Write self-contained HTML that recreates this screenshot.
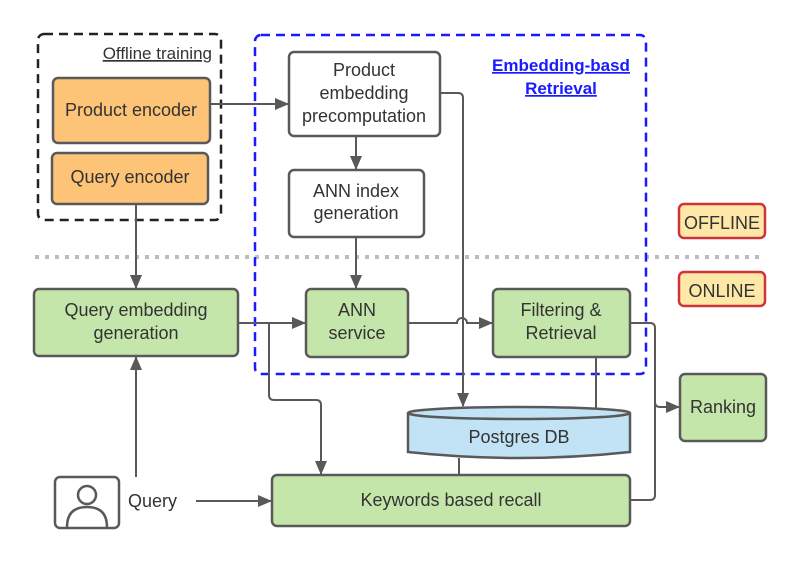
<!DOCTYPE html>
<html><head><meta charset="utf-8"><style>
html,body{margin:0;padding:0;background:#fff;}
svg{display:block;}
text{font-family:"Liberation Sans",sans-serif;fill:#333;}
</style></head><body>
<svg width="800" height="562" viewBox="0 0 800 562" xmlns="http://www.w3.org/2000/svg">
<defs>
<marker id="a" markerWidth="14" markerHeight="12" refX="13" refY="6" orient="auto" markerUnits="userSpaceOnUse">
<path d="M0,0 L14,6 L0,12 z" fill="#595959"/></marker>
</defs>
<line x1="35" y1="257" x2="764" y2="257" stroke="#bdbdbd" stroke-width="4" stroke-dasharray="4,6"/>
<rect x="38" y="34" width="183" height="186" rx="6" fill="none" stroke="#222" stroke-width="2.5" stroke-dasharray="9,6"/>
<text x="212" y="59" font-size="17" text-anchor="end" text-decoration="underline">Offline training</text>
<rect x="255" y="35" width="391" height="339" rx="6" fill="none" stroke="#1a1aff" stroke-width="2.5" stroke-dasharray="9,6"/>
<text x="561" y="71" font-size="17" font-weight="bold" text-anchor="middle" style="fill:#1a1aff" text-decoration="underline">Embedding-basd</text>
<text x="561" y="94" font-size="17" font-weight="bold" text-anchor="middle" style="fill:#1a1aff" text-decoration="underline">Retrieval</text>

<g stroke="#595959" stroke-width="2" fill="none">
<line x1="210" y1="104" x2="288" y2="104" marker-end="url(#a)"/>
<line x1="356" y1="136" x2="356" y2="169" marker-end="url(#a)"/>
<line x1="356" y1="237" x2="356" y2="288" marker-end="url(#a)"/>
<line x1="136" y1="204" x2="136" y2="288" marker-end="url(#a)"/>
<line x1="136" y1="477" x2="136" y2="357" marker-end="url(#a)"/>
<line x1="196" y1="501" x2="271" y2="501" marker-end="url(#a)"/>
<line x1="238" y1="323" x2="305" y2="323" marker-end="url(#a)"/>
<path d="M269,323 V395 Q269,400 274,400 H316 Q321,400 321,405 V474" marker-end="url(#a)"/>
<path d="M408,323 H457 A5,5 0 0 1 467,323 H492" marker-end="url(#a)"/>
<path d="M440,93 H458 Q463,93 463,98 V406" marker-end="url(#a)"/>
<line x1="596" y1="357" x2="596" y2="408"/>
<line x1="459" y1="458" x2="459" y2="476"/>
<path d="M630,323 H650 Q655,323 655,328 V495 Q655,500 650,500 H630"/>
<path d="M655,402 Q655,407 660,407 H679" marker-end="url(#a)"/>
</g>

<rect x="53" y="78" width="157" height="65" rx="5" fill="#fdc377" stroke="#595959" stroke-width="2.5"/>
<text x="131" y="116" font-size="18" text-anchor="middle">Product encoder</text>
<rect x="52" y="153" width="156" height="51" rx="5" fill="#fdc377" stroke="#595959" stroke-width="2.5"/>
<text x="130" y="183" font-size="18" text-anchor="middle">Query encoder</text>
<rect x="289" y="52" width="151" height="84" rx="5" fill="#fff" stroke="#595959" stroke-width="2.5"/>
<text x="364" y="76" font-size="18" text-anchor="middle">Product</text>
<text x="364" y="99" font-size="18" text-anchor="middle">embedding</text>
<text x="364" y="122" font-size="18" text-anchor="middle">precomputation</text>
<rect x="289" y="170" width="135" height="67" rx="5" fill="#fff" stroke="#595959" stroke-width="2.5"/>
<text x="356" y="197" font-size="18" text-anchor="middle">ANN index</text>
<text x="356" y="219" font-size="18" text-anchor="middle">generation</text>
<rect x="679" y="204" width="86" height="34" rx="5" fill="#fde8a8" stroke="#d0333a" stroke-width="2.5"/>
<text x="722" y="229" font-size="18" text-anchor="middle">OFFLINE</text>
<rect x="679" y="272" width="86" height="34" rx="5" fill="#fde8a8" stroke="#d0333a" stroke-width="2.5"/>
<text x="722" y="297" font-size="18" text-anchor="middle">ONLINE</text>
<g fill="#c5e6ab" stroke="#595959" stroke-width="2.5">
<rect x="34" y="289" width="204" height="67" rx="5"/>
<rect x="306" y="289" width="102" height="68" rx="5"/>
<rect x="493" y="289" width="137" height="68" rx="5"/>
<rect x="680" y="374" width="86" height="67" rx="5"/>
<rect x="272" y="475" width="358" height="51" rx="5"/>
</g>
<text x="136" y="316" font-size="18" text-anchor="middle">Query embedding</text>
<text x="136" y="339" font-size="18" text-anchor="middle">generation</text>
<text x="357" y="316" font-size="18" text-anchor="middle">ANN</text>
<text x="357" y="339" font-size="18" text-anchor="middle">service</text>
<text x="561" y="316" font-size="18" text-anchor="middle">Filtering &amp;</text>
<text x="561" y="339" font-size="18" text-anchor="middle">Retrieval</text>
<text x="723" y="413" font-size="18" text-anchor="middle">Ranking</text>
<text x="451" y="506" font-size="18" text-anchor="middle">Keywords based recall</text>
<path d="M408,413 V452 Q519,464 630,452 V413" fill="#c1e3f5" stroke="#595959" stroke-width="2.5"/>
<ellipse cx="519" cy="413" rx="111" ry="6" fill="#c1e3f5" stroke="#595959" stroke-width="2.5"/>
<text x="519" y="443" font-size="18" text-anchor="middle">Postgres DB</text>
<rect x="55" y="477" width="64" height="51" rx="5" fill="#fff" stroke="#595959" stroke-width="2.5"/>
<circle cx="87" cy="495" r="9" fill="none" stroke="#595959" stroke-width="2.5"/>
<path d="M67,527 Q67,507 87,507 Q107,507 107,527" fill="none" stroke="#595959" stroke-width="2.5"/>
<text x="128" y="507" font-size="18">Query</text>
</svg>
</body></html>
